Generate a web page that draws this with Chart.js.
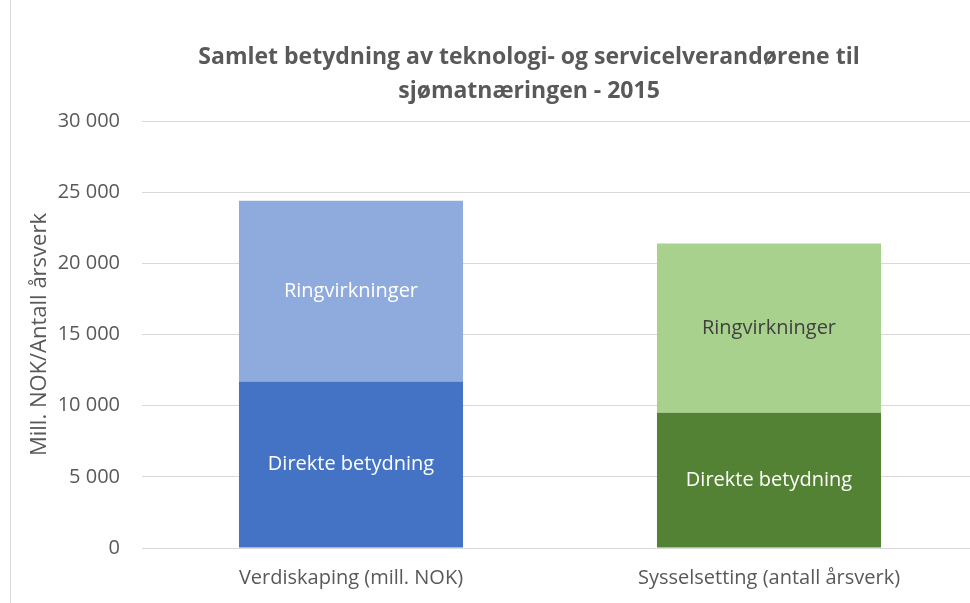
<!DOCTYPE html>
<html>
<head>
<meta charset="utf-8">
<script src="https://cdn.jsdelivr.net/npm/chart.js@4"></script>
<style>
  html, body { margin: 0; padding: 0; background: #fff; overflow: hidden; }
  #wrap { position: absolute; left: 0; top: 0; width: 1032px; height: 608px; }
  #edge { position: absolute; left: 10px; top: 0; width: 1px; height: 603px; background: #d9d9d9; }
</style>
</head>
<body>
<div id="wrap"><canvas id="chart" width="1032" height="608"></canvas></div>
<div id="edge"></div>
<script>
var categories = ['Verdiskaping (mill. NOK)', 'Sysselsetting (antall årsverk)'];
var direkte = [11700, 9500];
var ringvirkninger = [12700, 11900];
var yTicks = [0, 5000, 10000, 15000, 20000, 25000, 30000];

var FONT = "'Open Sans', 'DejaVu Sans', sans-serif";
var GREY = '#595959';

function fmt(v) {
  return v >= 1000 ? Math.floor(v / 1000) + ' ' + String(v % 1000).padStart(3, '0') : String(v);
}

// draws the segment names in the middle of each bar piece
var segmentLabels = {
  id: 'segmentLabels',
  afterDatasetsDraw(chart) {
    var ctx = chart.ctx;
    ctx.save();
    ctx.font = '20px ' + FONT;
    ctx.textAlign = 'center';
    ctx.textBaseline = 'middle';
    chart.data.datasets.forEach(function (ds, i) {
      chart.getDatasetMeta(i).data.forEach(function (bar, j) {
        ctx.fillStyle = ds.textColor[j];
        ctx.fillText(ds.label, bar.x, (bar.y + bar.base) / 2);
      });
    });
    ctx.restore();
  }
};

var ctx = document.getElementById('chart').getContext('2d');
var chart = new Chart(ctx, {
  type: 'bar',
  data: {
    labels: categories,
    datasets: [
      {
        label: 'Direkte betydning',
        data: direkte,
        backgroundColor: ['#4472C4', '#548235'],
        textColor: ['#ffffff', '#ffffff'],
      },
      {
        label: 'Ringvirkninger',
        data: ringvirkninger,
        backgroundColor: ['#8FAADC', '#A9D18E'],
        textColor: ['#ffffff', '#404040'],
      },
    ],
  },
  options: {
    responsive: false,
    animation: false,
    layout: { padding: { left: 26, right: 0, top: 0, bottom: 0 } },
    datasets: { bar: { categoryPercentage: 1, barPercentage: 0.536 } },
    plugins: {
      legend: { display: false },
      tooltip: { enabled: false },
      title: {
        display: true,
        text: ['Samlet betydning av teknologi- og servicelverandørene til', 'sjømatnæringen - 2015'],
        color: GREY,
        font: { family: FONT, size: 23, weight: 'bold', lineHeight: 1.48 },
        padding: { top: 40, bottom: 13 },
      },
    },
    scales: {
      x: {
        stacked: true,
        grid: { display: false, drawTicks: false },
        border: { display: false },
        ticks: { color: GREY, font: { family: FONT, size: 20 }, padding: 18 },
      },
      y: {
        stacked: true,
        min: 0,
        max: 30000,
        afterFit: function (scale) { scale.width = 116; },
        afterBuildTicks: function (scale) { scale.ticks = yTicks.map(function (v) { return { value: v }; }); },
        grid: { color: '#D9D9D9', drawTicks: false },
        border: { display: false },
        ticks: { color: GREY, font: { family: FONT, size: 20 }, padding: 22, callback: fmt },
        title: {
          display: true,
          text: 'Mill. NOK/Antall årsverk',
          color: GREY,
          font: { family: FONT, size: 22 },
          padding: { top: 1, bottom: 0 },
        },
      },
      // empty right-hand strip: the chart continues past the window edge
      yRight: {
        position: 'right',
        afterFit: function (scale) { scale.width = 54; },
        grid: { display: false, drawTicks: false },
        border: { display: false },
        ticks: { display: false },
      },
    },
  },
  plugins: [segmentLabels],
});
</script>
</body>
</html>
